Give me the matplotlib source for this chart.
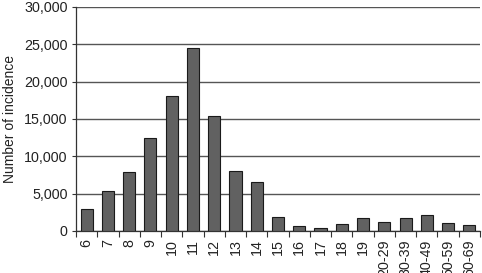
import matplotlib
matplotlib.use("Agg")
import matplotlib.pyplot as plt
import numpy as np

categories = ["6", "7", "8", "9", "10", "11", "12", "13", "14", "15", "16", "17",
              "18", "19", "20-29", "30-39", "40-49", "50-59", "60-69"]
incidence = [2900, 5300, 7950, 12450, 18100, 24450, 15350, 8100, 6550, 1850,
             650, 450, 950, 1800, 1200, 1800, 2150, 1100, 750]
yticks = [0, 5000, 10000, 15000, 20000, 25000, 30000]

plt.rcParams["font.family"] = ["Liberation Sans", "DejaVu Sans"]

fig = plt.figure(figsize=(4.82, 2.73), dpi=100)
ax = fig.add_axes([76/482, 1 - 231/273, (480-76)/482, (231-7)/273])

x = np.arange(len(categories))
ax.bar(x, incidence, width=0.57, color="#616161", edgecolor="#1a1a1a", linewidth=0.8, zorder=3)

ax.set_xlim(-0.5, len(categories) - 0.5)
ax.set_ylim(0, 30000)
ax.set_yticks(yticks)
ax.set_yticklabels([f"{v:,}" for v in yticks], fontsize=10.3, color="#222222")
ax.yaxis.grid(True, color="#555555", linewidth=1.0, zorder=1)
ax.set_axisbelow(True)

ax.set_xticks(x)
ax.set_xticklabels(categories, rotation=90, fontsize=10.3, color="#222222")
ax.set_xticks(np.arange(-0.5, len(categories), 1), minor=True)
ax.tick_params(axis="x", which="major", length=0, pad=6)
ax.tick_params(axis="x", which="minor", length=4, width=0.8, color="#333333", direction="out")
ax.tick_params(axis="y", length=3, width=0.8, color="#333333", pad=3)

for s in ["top", "right"]:
    ax.spines[s].set_visible(False)
for s in ["left", "bottom"]:
    ax.spines[s].set_color("#333333")
    ax.spines[s].set_linewidth(0.9)

ax.set_ylabel("Number of incidence", fontsize=10, color="#222222", labelpad=5)

fig.savefig("out.png", dpi=100)
